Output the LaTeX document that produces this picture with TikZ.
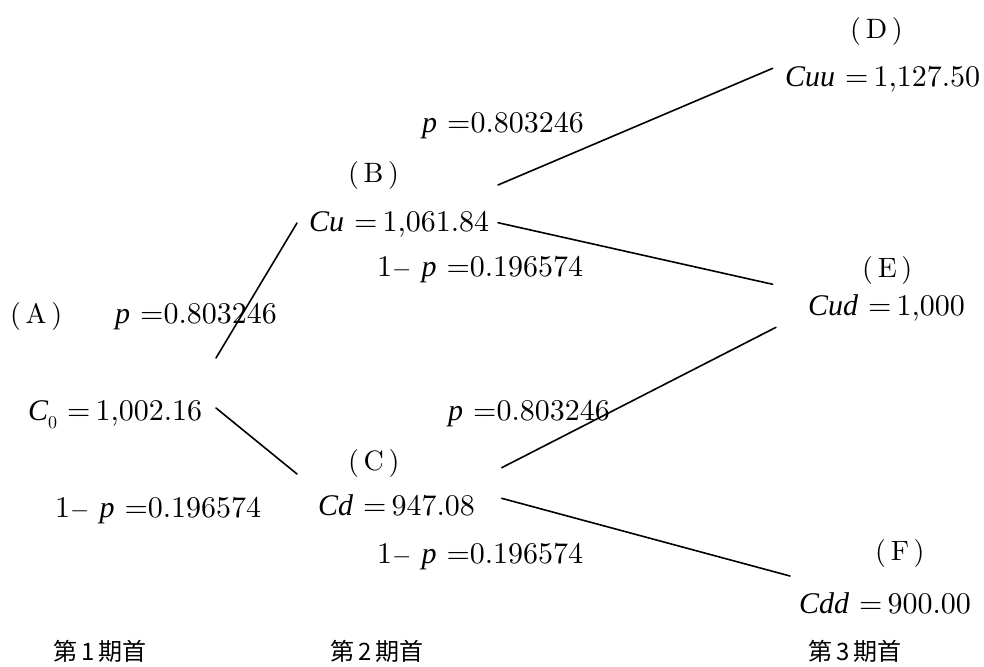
\documentclass[tikz,border=0pt]{standalone}
\usepackage{fontspec}
\setmainfont{lmroman10-regular}[Extension=.otf,ItalicFont=lmroman10-italic]
\newfontfamily\cjk{Noto Sans CJK JP}
\newfontfamily\tms{Liberation Serif}
\newcommand\vr[1]{{\tms\itshape #1}}
\newcommand\zsub{\raisebox{-0.28em}{\fontsize{18}{18}\selectfont 0}}
\begin{document}
\begin{tikzpicture}[x=1pt,y=-1pt,
  lbl/.style={anchor=base west,inner sep=0pt,font=\fontsize{30}{34}\selectfont},
  tag/.style={anchor=base west,inner sep=0pt,font=\fontsize{28}{32}\selectfont},
  period/.style={anchor=base west,inner sep=0pt,font=\cjk\fontsize{24}{28}\selectfont},
  branch/.style={line width=1.6pt,line cap=round}]
\useasboundingbox (0,0) rectangle (984,666);

% node values and their letters
\node[tag] (tA) at (10,323) {(\,A\,)};
\node[lbl] (nA) at (28,420) {\vr{C}\zsub\ =\,1,002.16};
\node[tag] (tB) at (348,182) {(\,B\,)};
\node[lbl] (nB) at (309,231) {\vr{Cu} =\,1,061.84};
\node[tag] (tC) at (348,470) {(\,C\,)};
\node[lbl] (nC) at (318,515) {\vr{Cd} =\,947.08};
\node[tag] (tD) at (850,39) {(\,D\,)};
\node[lbl] (nD) at (785,87) {\vr{Cuu} =\,1,127.50};
\node[tag] (tE) at (862,277) {(\,E\,)};
\node[lbl] (nE) at (808,315) {\vr{Cud} =\,1,000};
\node[tag] (tF) at (875,560) {(\,F\,)};
\node[lbl] (nF) at (799,613) {\vr{Cdd} =\,900.00};

% probabilities
\node[lbl] (pA) at (115,323) {\vr{p} =0.803246};
\node[lbl] (qA) at (55,517) {1$-$ \vr{p} =0.196574};
\node[lbl] (pB) at (422,132) {\vr{p} =0.803246};
\node[lbl] (qB) at (377,276) {1$-$ \vr{p} =0.196574};
\node[lbl] (pC) at (448,420) {\vr{p} =0.803246};
\node[lbl] (qC) at (377,563) {1$-$ \vr{p} =0.196574};

% periods
\node[period] (t1) at (53,660) {第\,1\,期首};
\node[period] (t2) at (330,660) {第\,2\,期首};
\node[period] (t3) at (808,660) {第\,3\,期首};

% branch end points
\coordinate (A1) at (216,358);
\coordinate (A2) at (216,408);
\coordinate (B0) at (297,223);
\coordinate (C0) at (297,474);
\coordinate (B1) at (498,185);
\coordinate (B2) at (498,222.7);
\coordinate (C1) at (501.7,467.7);
\coordinate (C2) at (501.7,498.3);
\coordinate (D0) at (772.7,68.3);
\coordinate (E1) at (772.7,284.3);
\coordinate (E2) at (776,327.3);
\coordinate (F0) at (790,576);

\draw[branch] (A1) -- (B0);
\draw[branch] (A2) -- (C0);
\draw[branch] (B1) -- (D0);
\draw[branch] (B2) -- (E1);
\draw[branch] (C1) -- (E2);
\draw[branch] (C2) -- (F0);
\end{tikzpicture}
\end{document}
